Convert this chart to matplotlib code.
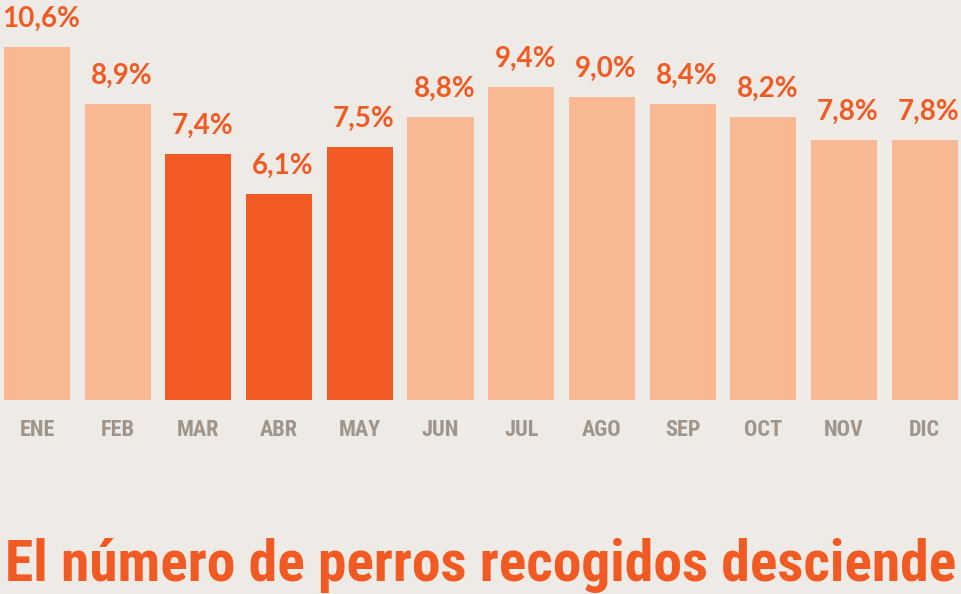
import matplotlib.pyplot as plt
from matplotlib import font_manager

months = ["ENE", "FEB", "MAR", "ABR", "MAY", "JUN", "JUL", "AGO", "SEP", "OCT", "NOV", "DIC"]
# printed percentages
labels = ["10,6%", "8,9%", "7,4%", "6,1%", "7,5%", "8,8%", "9,4%", "9,0%", "8,4%", "8,2%", "7,8%", "7,8%"]
# bar heights as drawn in the original (they don't always agree with the labels)
heights = [10.6, 8.9, 7.4, 6.2, 7.6, 8.5, 9.4, 9.1, 8.9, 8.5, 7.8, 7.8]
highlight = ["MAR", "ABR", "MAY"]
title = "El número de perros recogidos desciende"

bg = "#EEEBE6"
light = "#F9B894"
dark = "#F15A22"
grey = "#A0958A"

names = {f.name for f in font_manager.fontManager.ttflist}
narrow = "Roboto"
for cand in ["Roboto Condensed", "Liberation Sans Narrow", "Open Sans Condensed"]:
    if cand in names:
        narrow = cand
        break

fig = plt.figure(figsize=(9.62, 5.94), dpi=100, facecolor=bg)
ax = fig.add_axes([0, 194 / 594, 1, 400 / 594])
ax.set_facecolor(bg)

x = range(len(months))
colors = [dark if m in highlight else light for m in months]
ax.bar(x, heights, width=0.82, color=colors)

for i, (h, lab) in enumerate(zip(heights, labels)):
    ax.text(i + 0.05, h + 0.6, lab, ha="center", va="baseline", color=dark,
            fontsize=20, fontweight="bold", family="Lato")

ax.set_xlim(-37 / 80.7, (962 - 37) / 80.7)
ax.set_ylim(0, 400 * 10.6 / 353)
ax.set_xticks(list(x))
ax.set_xticklabels(months, color=grey, fontsize=16, fontweight="bold", family=narrow)
ax.tick_params(axis="x", length=0, pad=14)
ax.set_yticks([])
for s in ax.spines.values():
    s.set_visible(False)

# the original title runs off the frame; keep it whole but as wide as the frame
t = fig.text(5 / 962, 1 / 594, title, color=dark, fontsize=40, fontweight="bold",
             family=narrow, ha="left", va="bottom")
fig.canvas.draw()
w = t.get_window_extent().width
t.set_fontsize(40 * 950 / w)

fig.savefig("out.png", dpi=100, facecolor=bg)
